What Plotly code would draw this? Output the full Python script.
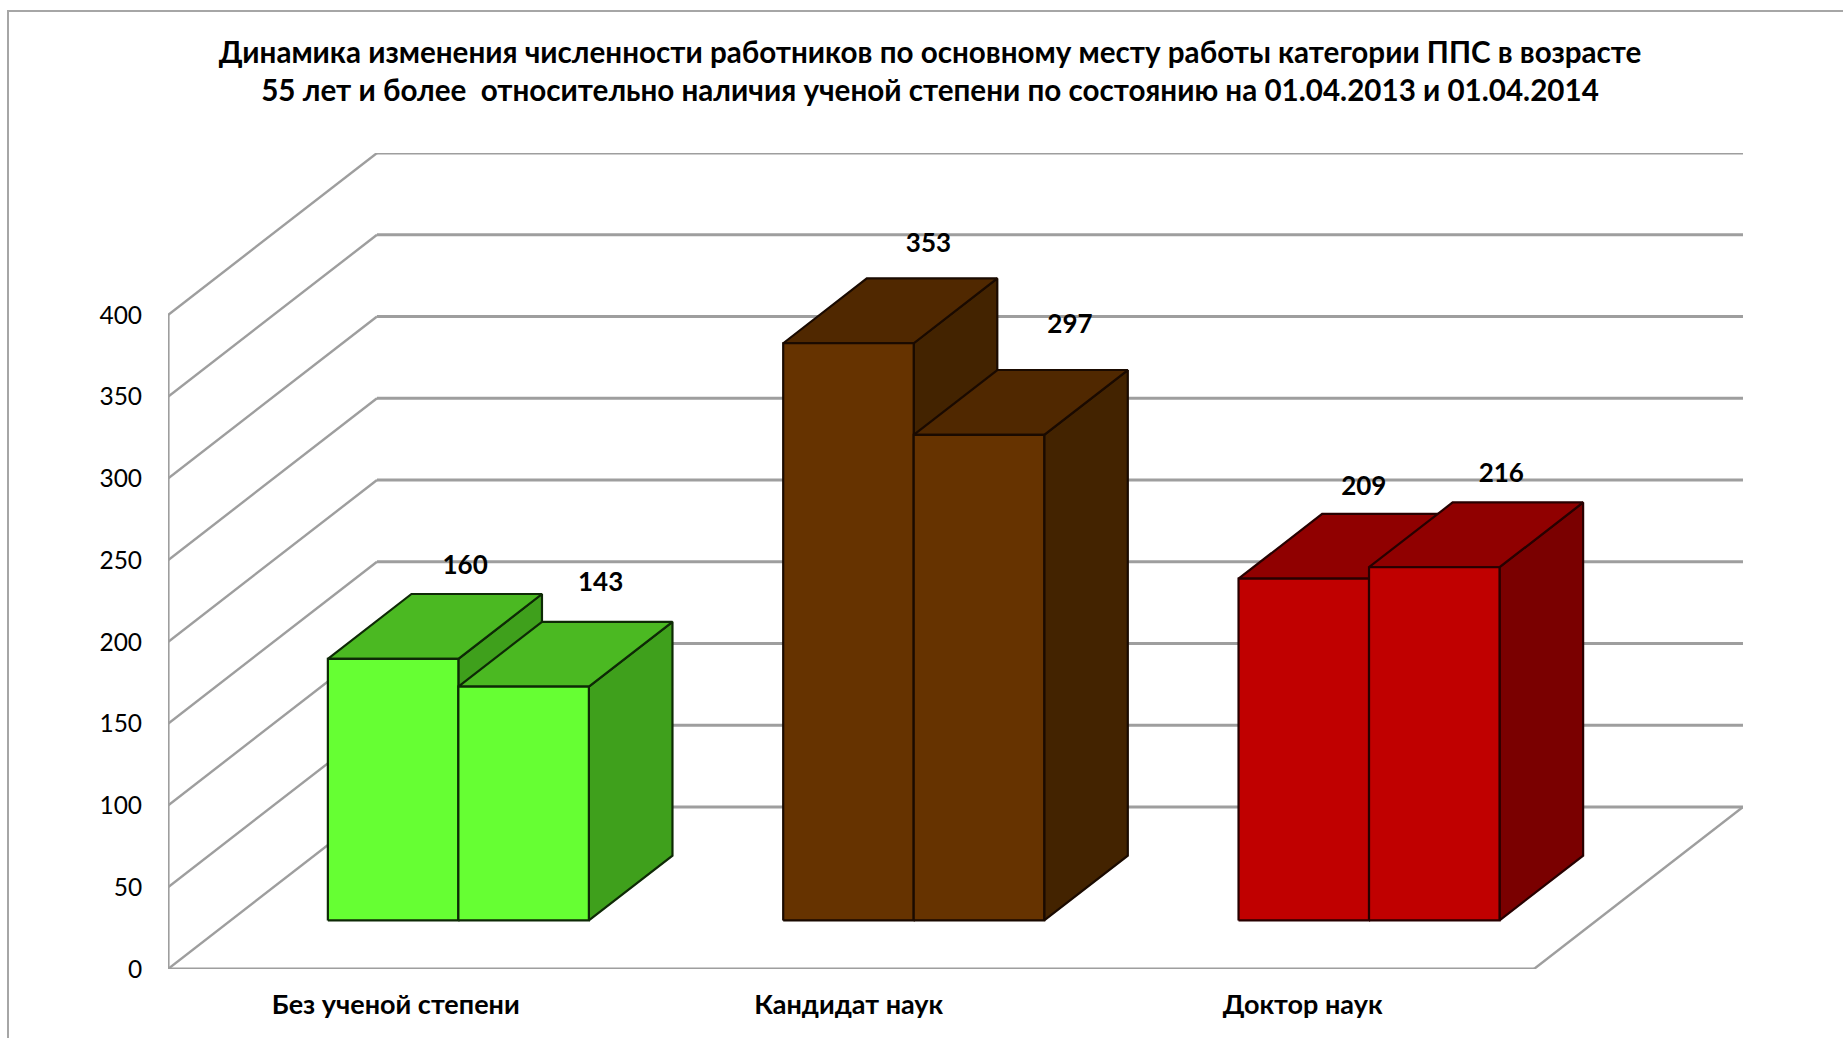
import plotly.graph_objects as go

categories = ["Без ученой степени", "Кандидат наук", "Доктор наук"]
values_2013 = [160, 353, 209]
values_2014 = [143, 297, 216]
tick_values = [0, 50, 100, 150, 200, 250, 300, 350, 400]
title_text = ("Динамика изменения численности работников по основному месту работы категории ППС в возрасте<br>"
              "55 лет и более  относительно наличия ученой степени по состоянию на 01.04.2013 и 01.04.2014")

# style
front = ["#66FF33", "#663300", "#C00000"]
top = ["#4BB922", "#502800", "#900000"]
side = ["#3FA01C", "#432300", "#7A0000"]
edge = ["#0E2A06", "#1A0A00", "#280000"]
grid_color = "#9E9E9E"
FONT = "Lato"

# plot geometry, in pixels
W, H = 1843, 1038
L, R_PX, T_PX, B_PX = 168, 1743, 153, 969
PX_PER_CAT = 455.33
PX_PER_VAL = 1.635
DEPTH_X = 209 / PX_PER_CAT   # shift in category units over the whole floor depth
DEPTH_Y = 162 / PX_PER_VAL   # shift in value units over the whole floor depth
xmax = (R_PX - L) / PX_PER_CAT
ymax = (B_PX - T_PX) / PX_PER_VAL
N = len(categories)
BAR_W = 130.5 / PX_PER_CAT
D0, D1 = 0.30, 0.70

# label offsets from the bar's front-top centre, in pixels
label_dx = [[72, 77], [80, 91], [60, 67]]
label_dy = [[91, 102], [98, 108], [90, 92]]
category_label_pos = [0.5, 1.495, 2.492]


def proj(x, v, d):
    return x + d * DEPTH_X, v + d * DEPTH_Y


def poly(points, fill, line, width=2.2):
    xs, ys = zip(*[proj(*p) for p in points])
    return go.Scatter(x=list(xs) + [xs[0]], y=list(ys) + [ys[0]], mode="lines", fill="toself",
                      fillcolor=fill, line=dict(color=line, width=width, shape="linear"),
                      hoverinfo="skip", showlegend=False, cliponaxis=False)


def wall_line(points, width):
    xs, ys = zip(*[proj(*p) for p in points])
    return go.Scatter(x=xs, y=ys, mode="lines", line=dict(color=grid_color, width=width),
                      hoverinfo="skip", showlegend=False, cliponaxis=False)


fig = go.Figure()

# walls: gridlines and floor
for v in tick_values:
    fig.add_trace(wall_line([(0, v, 0), (0, v, 1)], 2.4))
    fig.add_trace(wall_line([(0, v, 1), (N, v, 1)], 3))
fig.add_trace(wall_line([(0, 400, 0), (0, 0, 0), (N, 0, 0)], 3.2))
fig.add_trace(wall_line([(N, 0, 0), (N, 0, 1)], 2.4))

# bars
lab_x, lab_y, lab_t = [], [], []
for i in range(N):
    centre = i + 0.5
    for j, vals in enumerate((values_2013, values_2014)):
        v = vals[i]
        x0 = centre - BAR_W + j * BAR_W
        x1 = x0 + BAR_W
        fig.add_trace(poly([(x1, 0, D0), (x1, 0, D1), (x1, v, D1), (x1, v, D0)], side[i], edge[i]))
        fig.add_trace(poly([(x0, v, D0), (x1, v, D0), (x1, v, D1), (x0, v, D1)], top[i], edge[i]))
        fig.add_trace(poly([(x0, 0, D0), (x1, 0, D0), (x1, v, D0), (x0, v, D0)], front[i], edge[i]))
        px, py = proj((x0 + x1) / 2, v, D0)
        lab_x.append(px + label_dx[i][j] / PX_PER_CAT)
        lab_y.append(py + label_dy[i][j] / PX_PER_VAL)
        lab_t.append(str(v))

fig.add_trace(go.Scatter(x=lab_x, y=lab_y, text=lab_t, mode="text", textposition="middle center",
                         textfont=dict(family=FONT, size=26, color="#000000", weight="bold"),
                         hoverinfo="skip", showlegend=False, cliponaxis=False))

fig.update_layout(
    width=W, height=H, autosize=False,
    margin=dict(l=L, r=W - R_PX, t=T_PX, b=H - B_PX, pad=0),
    paper_bgcolor="#FFFFFF", plot_bgcolor="rgba(0,0,0,0)",
    font=dict(family=FONT, color="#000000"),
    title=dict(text=title_text, x=930 / W, xanchor="center", xref="container",
               y=1 - 63 / H, yanchor="top",
               font=dict(family=FONT, size=29.6, color="#000000", weight="bold")),
    xaxis=dict(range=[0, xmax], tickmode="array", tickvals=category_label_pos, ticktext=categories,
               showgrid=False, zeroline=False, showline=False, ticks="outside", ticklen=12,
               tickcolor="rgba(0,0,0,0)", tickfont=dict(family=FONT, size=27, weight="bold", color="#000000")),
    yaxis=dict(range=[0, ymax], tickmode="array", tickvals=tick_values, ticktext=[str(t) for t in tick_values],
               showgrid=False, zeroline=False, showline=False, ticks="outside", ticklen=20,
               tickcolor="rgba(0,0,0,0)", tickfont=dict(family=FONT, size=24.5, color="#000000")),
    shapes=[dict(type="rect", xref="paper", yref="paper", layer="below",
                 x0=-(L - 8) / (R_PX - L), x1=(W + 20 - L) / (R_PX - L),
                 y0=-(H + 20 - B_PX) / (B_PX - T_PX), y1=(B_PX - 11) / (B_PX - T_PX),
                 line=dict(color="#A6A6A6", width=2), fillcolor="rgba(0,0,0,0)")],
)

fig.write_html("out.html", post_script="document.body.style.margin='0';", config={"displayModeBar": False})
